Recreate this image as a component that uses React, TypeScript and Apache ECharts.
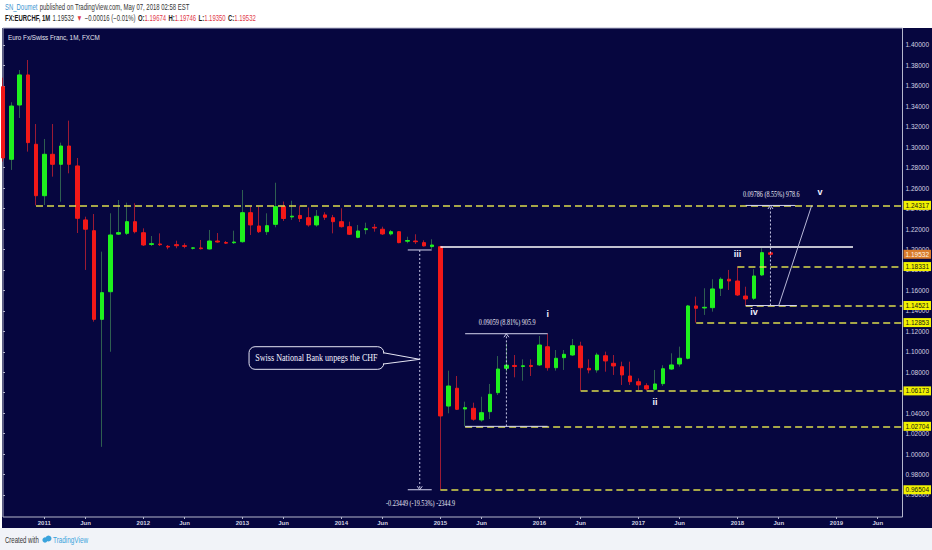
import React, { useEffect, useRef } from "react";
import * as echarts from "echarts";

// ---------------- DATA ----------------
const startYear = 2010;
const startMonth = 8; // Aug 2010
const monthCount = 110; // Aug 2010 .. Sep 2019
const categories: string[] = Array.from({ length: monthCount }, (_, i) => {
  const m = startMonth - 1 + i;
  return `${startYear + Math.floor(m / 12)}-${String((m % 12) + 1).padStart(2, "0")}`;
});

const openP = [
  1.3592, 1.2882, 1.3413, 1.3707, 1.3029, 1.2526, 1.2931, 1.2833, 1.3012, 1.2817,
  1.2289, 1.2184, 1.1317, 1.1587, 1.2150, 1.2158, 1.2272, 1.2164, 1.2049, 1.2054,
  1.2031, 1.2047, 1.2037, 1.2012, 1.2015, 1.2005, 1.2083, 1.2068, 1.2066, 1.2076,
  1.2360, 1.2230, 1.2174, 1.2246, 1.2421, 1.2318, 1.2333, 1.2311, 1.2240, 1.2338,
  1.2311, 1.2272, 1.2223, 1.2119, 1.2194, 1.2217, 1.2198, 1.2152, 1.2174, 1.2081,
  1.2083, 1.2067, 1.2028, 1.2027, 1.0469, 1.0643, 1.0440, 1.0447, 1.0333, 1.0414,
  1.0600, 1.0838, 1.0866, 1.0856, 1.0866, 1.0871, 1.1049, 1.0844, 1.0942, 1.0968,
  1.1056, 1.0838, 1.0822, 1.0961, 1.0887, 1.0854, 1.0763, 1.0707, 1.0668, 1.0633,
  1.0688, 1.0831, 1.0880, 1.0936, 1.1448, 1.1428, 1.1431, 1.1621, 1.1709, 1.1692,
  1.1545, 1.1523, 1.1751, 1.19674,
];
const closeP = [
  1.2895, 1.3403, 1.3707, 1.3045, 1.2526, 1.2931, 1.2833, 1.3012, 1.2833, 1.2305,
  1.2198, 1.1317, 1.1578, 1.2142, 1.2165, 1.2272, 1.2174, 1.2044, 1.2057, 1.2047,
  1.2024, 1.2037, 1.2031, 1.2016, 1.2008, 1.2083, 1.2073, 1.2062, 1.2073, 1.2360,
  1.2240, 1.2174, 1.2233, 1.2419, 1.2303, 1.2326, 1.2303, 1.2240, 1.2325, 1.2315,
  1.2272, 1.2223, 1.2149, 1.2181, 1.2203, 1.2210, 1.2152, 1.2174, 1.2067, 1.2088,
  1.2076, 1.2035, 1.2044, 1.0372, 1.0665, 1.0437, 1.0453, 1.0340, 1.0404, 1.0584,
  1.0831, 1.0868, 1.0856, 1.0863, 1.0856, 1.1066, 1.0844, 1.0936, 1.0975, 1.1059,
  1.0844, 1.0822, 1.0968, 1.0910, 1.0861, 1.0773, 1.0707, 1.0675, 1.0636, 1.0685,
  1.0834, 1.0871, 1.0936, 1.1448, 1.1425, 1.1435, 1.1614, 1.1709, 1.1692, 1.1555,
  1.1516, 1.1741, 1.1969, 1.19532,
];
const lowP = [
  1.2860, 1.2778, 1.3286, 1.2957, 1.24317, 1.2435, 1.2712, 1.2467, 1.2745, 1.2161,
  1.1800, 1.1294, 1.0070, 1.1000, 1.2142, 1.2142, 1.2158, 1.2034, 1.2034, 1.2034,
  1.2002, 1.2012, 1.2012, 1.2000, 1.2000, 1.2000, 1.2066, 1.2054, 1.2054, 1.2067,
  1.2142, 1.2161, 1.2142, 1.2217, 1.2279, 1.2289, 1.2269, 1.2223, 1.2223, 1.2289,
  1.2158, 1.2215, 1.2142, 1.2110, 1.2149, 1.2174, 1.2142, 1.2137, 1.2061, 1.2061,
  1.2054, 1.2030, 1.2005, 0.96504, 1.0398, 1.0430, 1.02704, 1.0326, 1.0316, 1.0342,
  1.0577, 1.0805, 1.0750, 1.0717, 1.0763, 1.0861, 1.0815, 1.0815, 1.0822, 1.0960,
  1.06173, 1.0789, 1.0795, 1.0805, 1.0773, 1.0675, 1.0675, 1.0626, 1.0620, 1.0620,
  1.0665, 1.0822, 1.0854, 1.0926, 1.12853, 1.1360, 1.1392, 1.1545, 1.1604, 1.1545,
  1.14521, 1.1506, 1.1741, 1.19350,
];
const highP = [
  1.3680, 1.3440, 1.3755, 1.3853, 1.3227, 1.3081, 1.3227, 1.3045, 1.3260, 1.2895,
  1.2321, 1.2347, 1.1979, 1.2354, 1.2484, 1.2458, 1.2452, 1.2207, 1.2132, 1.2158,
  1.2044, 1.2086, 1.2061, 1.2022, 1.2093, 1.2191, 1.2161, 1.2083, 1.2184, 1.2582,
  1.2419, 1.2419, 1.2354, 1.2653, 1.2469, 1.2477, 1.2430, 1.2411, 1.2386, 1.2364,
  1.2338, 1.2403, 1.2272, 1.2240, 1.2262, 1.2249, 1.2223, 1.2191, 1.2181, 1.2125,
  1.2149, 1.2090, 1.2100, 1.2035, 1.0815, 1.0763, 1.0512, 1.0502, 1.0560, 1.0685,
  1.0958, 1.1083, 1.0968, 1.0926, 1.0926, 1.1154, 1.11763, 1.1017, 1.1017, 1.1125,
  1.1098, 1.0926, 1.0990, 1.1001, 1.0968, 1.0903, 1.0903, 1.0740, 1.0692, 1.0822,
  1.0868, 1.0985, 1.1050, 1.1458, 1.1539, 1.1621, 1.1709, 1.1728, 1.1800, 1.18331,
  1.1636, 1.1807, 1.2012, 1.19746,
];

const yTicks = [
  0.96, 0.98, 1.0, 1.02, 1.04, 1.06, 1.08, 1.1, 1.12, 1.14, 1.16, 1.18,
  1.2, 1.22, 1.24, 1.26, 1.28, 1.3, 1.32, 1.34, 1.36, 1.38, 1.4,
];

// horizontal support / resistance levels (value, first month index)
const levelValues = [1.24317, 1.18331, 1.14521, 1.12853, 1.06173, 1.02704, 0.96504];
const levelStart = [4, 89, 90, 84, 70, 56, 53];
const lastPrice = 1.19532;
const lastIndex = 93;
const pegValue = 1.2031;
const pegStart = 53;
const pegEnd = 103;

// annotation segments (month index, price)
const segX1 = [49.05, 49.05, 50.5, 56, 56, 61, 90, 90, 93, 94];
const segY1 = [1.19953, 0.96504, 1.19953, 1.11763, 1.02704, 1.02704, 1.24307, 1.14521, 1.14521, 1.14521];
const segX2 = [51.95, 51.95, 50.5, 66, 66, 61, 96, 96.2, 93, 98];
const segY2 = [1.19953, 0.96504, 0.96504, 1.11763, 1.02704, 1.11763, 1.24307, 1.14521, 1.24307, 1.2431];
const segKind = ["edge", "edge", "measure", "edge", "edge", "measure", "edge", "edge", "measure", "thin"];

// text annotations
const annoText = [
  "i", "ii", "iii", "iv", "v",
  "-0.23449 (-19.53%) -2344.9",
  "0.09059 (8.81%) 905.9",
  "0.09786 (8.55%) 978.6",
];
const annoX = [66, 79, 89, 91, 99, 50.6, 61.1, 93.1];
const annoY = [1.1369, 1.0512, 1.1953, 1.1392, 1.2565, 0.9521, 1.1284, 1.2538];
const annoKind = ["wave", "wave", "wave", "wave", "wave", "measure", "measure", "measure"];

const calloutText = "Swiss National Bank unpegs the CHF";
const calloutTip = [50.5, 1.0926];

// ---------------- STYLE ----------------
const NAVY = "#06063f";
const UP = "#1ef01e";
const DOWN = "#f21818";
const WICK_UP = "#2e5e50";
const WICK_DOWN = "#9c1a34";
const LEVEL = "#dcdc4c";
const YELLOW_BOX = "#f2f200";
const ORANGE_BOX = "#d97b2b";
const AXIS_TEXT = "#d2d2e2";
const BORDER = "#b4b6cc";
const SANS = '"Liberation Sans", Arial, sans-serif';
const SERIF = '"Liberation Serif", "Times New Roman", serif';

const SEG_STYLE: Record<string, any> = {
  edge: { stroke: "#d4d4ee", lineWidth: 1 },
  measure: { stroke: "#c8c8e6", lineWidth: 1, lineDash: [2, 2] },
  thin: { stroke: "#b8b8d8", lineWidth: 1 },
};

function buildOption(): any {
  const wickData = openP.map((o, i) => [o, closeP[i], lowP[i], highP[i]]);
  const bodyData = openP.map((o, i) => [o, closeP[i], Math.min(o, closeP[i]), Math.max(o, closeP[i])]);

  const isLabelMonth = (_: number, v: string) => v.endsWith("-01") || v.endsWith("-06");

  const boxLabel = (text: string, bg: string, fg: string) => ({
    show: true,
    position: "end",
    distance: 1,
    formatter: text,
    backgroundColor: bg,
    color: fg,
    fontSize: 6.5,
    fontFamily: SANS,
    padding: [1, 2, 1, 2],
  });

  const markData: any[] = levelValues.map((v, i) => [
    {
      coord: [levelStart[i], v],
      lineStyle: { color: LEVEL, width: 1.5, type: [7, 4] },
      label: boxLabel(v.toFixed(5), YELLOW_BOX, "#151515"),
    },
    { coord: [monthCount - 1, v] },
  ]);
  markData.push([
    { coord: [pegStart, pegValue], lineStyle: { color: "#ffffff", width: 1.5, type: "solid" }, label: { show: false } },
    { coord: [pegEnd, pegValue] },
  ]);
  markData.push([
    {
      coord: [lastIndex, lastPrice],
      lineStyle: { color: "rgba(0,0,0,0)", width: 0.1 },
      label: boxLabel(lastPrice.toFixed(5), ORANGE_BOX, "#fff4e6"),
    },
    { coord: [monthCount - 1, lastPrice] },
  ]);

  const segData = segX1.map((x, i) => [x, segY1[i], segX2[i], segY2[i], i]);
  const annoData = annoX.map((x, i) => [x, annoY[i], i]);

  return {
    animation: false,
    backgroundColor: "#ffffff",
    grid: {
      left: 3,
      right: 29,
      top: 28,
      bottom: 33,
      show: true,
      borderColor: BORDER,
      borderWidth: 1,
      backgroundColor: "transparent",
    },
    xAxis: [
      {
        type: "category",
        data: categories,
        boundaryGap: false,
        axisLine: { show: false },
        axisTick: { show: true, interval: isLabelMonth, length: 2, lineStyle: { color: BORDER } },
        axisLabel: {
          interval: isLabelMonth,
          formatter: (v: string) => (v.endsWith("-01") ? v.slice(0, 4) : "Jun"),
          color: AXIS_TEXT,
          fontSize: 6,
          fontWeight: "bold",
          fontFamily: SANS,
          margin: 3,
        },
        splitLine: { show: false },
      },
      { type: "value", min: 0, max: monthCount - 1, show: false },
    ],
    yAxis: {
      type: "value",
      position: "right",
      min: 0.9384,
      max: 1.4166,
      splitLine: { show: false },
      axisLine: { show: false },
      axisTick: { show: true, customValues: yTicks, length: 2, lineStyle: { color: BORDER } },
      axisLabel: {
        customValues: yTicks,
        formatter: (v: number) => v.toFixed(5),
        color: AXIS_TEXT,
        fontSize: 6.5,
        fontFamily: SANS,
        margin: 3,
      },
    },
    graphic: [
      { type: "rect", z: -100, shape: { x: 2, y: 28, width: 930, height: 500 }, style: { fill: NAVY } },
      { type: "rect", z: -100, shape: { x: 0, y: 528, width: 932, height: 22 }, style: { fill: "#f1f3f8" } },
      {
        type: "text", z: 100, x: 5, y: 7, scaleX: 0.7,
        style: {
          text: "{a|SN_Doumet} {b|published on TradingView.com, May 07, 2018 02:58 EST}",
          verticalAlign: "middle",
          rich: {
            a: { fill: "#3d94d0", fontSize: 8.5, fontFamily: SANS },
            b: { fill: "#333333", fontSize: 8.5, fontFamily: SANS },
          },
        },
      },
      {
        type: "text", z: 100, x: 5, y: 18, scaleX: 0.7,
        style: {
          text:
            "{k|FX:EURCHF, 1M} {n|1.19532} {r|▼} {n|−0.00016 (−0.01%)} {k|O:}{r|1.19674} {k|H:}{r|1.19746} {k|L:}{r|1.19350} {k|C:}{r|1.19532}",
          verticalAlign: "middle",
          rich: {
            k: { fill: "#1a1a1a", fontSize: 8.5, fontWeight: "bold", fontFamily: SANS },
            n: { fill: "#333333", fontSize: 8.5, fontFamily: SANS },
            r: { fill: "#df3a4a", fontSize: 8.5, fontFamily: SANS },
          },
        },
      },
      {
        type: "text", z: 100, x: 8, y: 37, scaleX: 0.79,
        style: { text: "Euro Fx/Swiss Franc, 1M, FXCM", fill: "#e4e4f0", fontSize: 8, fontFamily: SANS, verticalAlign: "middle" },
      },
      {
        type: "text", z: 100, x: 5, y: 540, scaleX: 0.71,
        style: { text: "Created with", fill: "#333333", fontSize: 8.5, fontFamily: SANS, verticalAlign: "middle" },
      },
      { type: "circle", z: 100, shape: { cx: 45, cy: 540, r: 2.6 }, style: { fill: "#3aa3dc" } },
      { type: "circle", z: 100, shape: { cx: 48.5, cy: 538.5, r: 3 }, style: { fill: "#3aa3dc" } },
      {
        type: "text", z: 100, x: 53, y: 540, scaleX: 0.75,
        style: { text: "TradingView", fill: "#3aa3dc", fontSize: 8.5, fontFamily: SANS, verticalAlign: "middle" },
      },
    ],
    series: [
      {
        name: "wicks",
        type: "candlestick",
        data: wickData,
        barWidth: 1,
        itemStyle: { color: WICK_UP, color0: WICK_DOWN, borderColor: WICK_UP, borderColor0: WICK_DOWN, borderWidth: 1 },
        silent: true,
      },
      {
        name: "bodies",
        type: "candlestick",
        data: bodyData,
        barWidth: 4,
        itemStyle: { color: UP, color0: DOWN, borderColor: UP, borderColor0: DOWN, borderWidth: 1 },
        silent: true,
        markLine: {
          silent: true,
          symbol: ["none", "none"],
          label: { show: false },
          data: markData,
        },
      },
      {
        name: "segments",
        type: "custom",
        xAxisIndex: 1,
        silent: true,
        z: 5,
        data: segData,
        renderItem: (_p: any, api: any) => {
          const i = api.value(4);
          const a = api.coord([api.value(0), api.value(1)]);
          const b = api.coord([api.value(2), api.value(3)]);
          const kind = segKind[i];
          const st = SEG_STYLE[kind];
          const children: any[] = [
            { type: "line", shape: { x1: a[0], y1: a[1], x2: b[0], y2: b[1] }, style: { ...st, fill: null } },
          ];
          if (kind === "measure") {
            const dir = b[1] > a[1] ? 1 : -1;
            children.push({
              type: "polyline",
              shape: { points: [[b[0] - 2.5, b[1] - dir * 3.5], [b[0], b[1]], [b[0] + 2.5, b[1] - dir * 3.5]] },
              style: { stroke: st.stroke, lineWidth: 1, fill: null },
            });
          }
          return { type: "group", children };
        },
      },
      {
        name: "texts",
        type: "custom",
        xAxisIndex: 1,
        silent: true,
        z: 6,
        data: annoData,
        renderItem: (_p: any, api: any) => {
          const i = api.value(2);
          const p = api.coord([api.value(0), api.value(1)]);
          const wave = annoKind[i] === "wave";
          return {
            type: "text",
            x: p[0],
            y: p[1],
            scaleX: wave ? 1 : 0.82,
            style: {
              text: annoText[i],
              fill: wave ? "#f2f2ff" : "#e6e6f4",
              fontSize: wave ? 9 : 7.5,
              fontWeight: wave ? "bold" : "normal",
              fontFamily: wave ? SANS : SERIF,
              align: "center",
              verticalAlign: "middle",
            },
          };
        },
      },
      {
        name: "callout",
        type: "custom",
        xAxisIndex: 1,
        silent: true,
        z: 7,
        data: [calloutTip],
        renderItem: (_p: any, api: any) => {
          const t = api.coord([api.value(0), api.value(1)]);
          const left = t[0] - 170.7;
          const right = t[0] - 36;
          const top = t[1] - 12.6;
          const bottom = t[1] + 10;
          const by1 = t[1] - 6.6;
          const by2 = t[1] + 4.7;
          return {
            type: "group",
            children: [
              {
                type: "rect",
                shape: { x: left, y: top, width: right - left, height: bottom - top, r: 6 },
                style: { fill: NAVY, stroke: "#e6e6f4", lineWidth: 1 },
              },
              {
                type: "polygon",
                shape: { points: [[right - 2, by1 + 0.6], [t[0] - 1, t[1]], [right - 2, by2 - 0.6]] },
                style: { fill: NAVY, stroke: null },
              },
              {
                type: "polyline",
                shape: { points: [[right - 0.5, by1], [t[0], t[1]], [right - 0.5, by2]] },
                style: { stroke: "#e6e6f4", lineWidth: 1, fill: null },
              },
              {
                type: "text",
                x: t[0] - 103.3,
                y: t[1] - 1.3,
                scaleX: 0.81,
                style: {
                  text: calloutText,
                  fill: "#f4f4ff",
                  fontSize: 10,
                  fontFamily: SERIF,
                  align: "center",
                  verticalAlign: "middle",
                },
              },
            ],
          };
        },
      },
    ],
  };
}

export default function App() {
  const ref = useRef<HTMLDivElement>(null);
  useEffect(() => {
    if (!ref.current) return;
    const chart = echarts.init(ref.current, null, { renderer: "svg" });
    chart.setOption(buildOption());
    return () => chart.dispose();
  }, []);
  return <div ref={ref} style={{ position: "absolute", left: 0, top: 0, width: 932, height: 550 }} />;
}
